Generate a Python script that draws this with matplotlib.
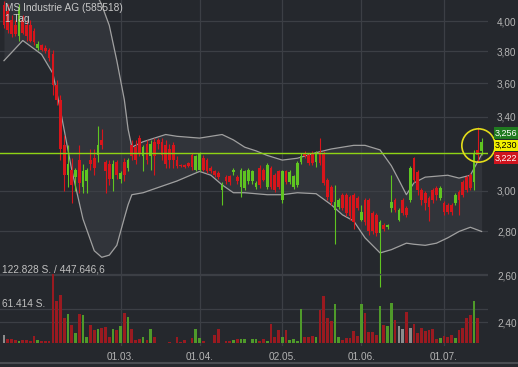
import numpy as np
import matplotlib.pyplot as plt
from matplotlib.ticker import NullLocator
from matplotlib.lines import Line2D

plt.rcParams['font.family'] = ['Liberation Sans', 'DejaVu Sans']

# Tageskerzen (Handelstage ab Mitte Januar)
opens = [4.11, 4.07, 4.01, 3.97, 3.90, 4.01, 3.97, 3.97, 3.93, 3.82,
         3.84, 3.82, 3.81, 3.78, 3.59, 3.50, 3.24, 3.08, 3.11, 3.07,
         3.16, 3.02, 3.05, 3.16, 3.17, 3.19, 3.27, 3.15, 3.14, 3.06,
         3.15, 3.06, 3.15, 3.12, 3.24, 3.23, 3.28, 3.18, 3.25, 3.18,
         3.26, 3.27, 3.26, 3.24, 3.22, 3.24, 3.16, 3.135, 3.135, 3.145,
         3.19, 3.11, 3.11, 3.17, 3.16, 3.12, 3.10, 3.09, 3.005, 3.07,
         3.075, 3.095, 3.07, 3.02, 3.015, 3.05, 3.05, 3.02, 3.12, 3.11,
         3.02, 3.12, 3.08, 3.10, 2.955, 3.10, 3.045, 3.02, 3.03, 3.15,
         3.20, 3.19, 3.20, 3.15, 3.205, 3.20, 3.055, 3.02, 2.905, 2.92,
         2.98, 2.98, 2.97, 2.98, 2.965, 2.855, 2.955, 2.955, 2.89, 2.88,
         2.795, 2.83, 2.82, 2.915, 2.955, 2.855, 2.955, 2.915, 2.955, 3.17,
         3.095, 3.005, 2.99, 2.965, 3.005, 3.015, 2.965, 2.94, 2.93, 2.93,
         2.94, 2.995, 3.045, 3.07, 3.08, 3.045, 3.215, 3.21]
closes = [3.97, 3.94, 3.91, 3.91, 4.09, 3.92, 3.90, 3.87, 3.86, 3.85,
          3.81, 3.80, 3.76, 3.59, 3.50, 3.22, 3.08, 3.14, 3.03, 3.11,
          3.04, 3.10, 3.11, 3.14, 3.12, 3.24, 3.24, 3.10, 3.06, 3.14,
          3.08, 3.09, 3.08, 3.16, 3.18, 3.16, 3.20, 3.23, 3.16, 3.25,
          3.18, 3.25, 3.19, 3.14, 3.16, 3.16, 3.13, 3.13, 3.125, 3.13,
          3.125, 3.18, 3.20, 3.11, 3.10, 3.10, 3.08, 3.07, 3.03, 3.05,
          3.045, 3.11, 3.05, 3.11, 3.10, 3.11, 3.10, 3.04, 3.03, 3.055,
          3.135, 3.02, 3.005, 3.02, 3.10, 3.045, 3.095, 3.075, 3.145, 3.18,
          3.18, 3.145, 3.145, 3.20, 3.145, 3.04, 2.97, 2.945, 2.945, 2.955,
          2.915, 2.89, 2.875, 2.845, 2.915, 2.895, 2.845, 2.80, 2.80, 2.795,
          2.845, 2.81, 2.83, 2.945, 2.905, 2.905, 2.89, 2.88, 3.12, 3.055,
          3.005, 2.955, 2.94, 2.92, 2.955, 2.98, 3.015, 2.895, 2.895, 2.895,
          2.98, 2.955, 2.98, 3.005, 3.015, 3.20, 3.19, 3.256]
highs = [4.14, 4.12, 4.04, 4.01, 4.12, 4.04, 4.00, 4.01, 3.95, 3.87,
         3.85, 3.84, 3.82, 3.81, 3.62, 3.53, 3.30, 3.24, 3.17, 3.12,
         3.24, 3.14, 3.12, 3.22, 3.22, 3.35, 3.33, 3.16, 3.16, 3.16,
         3.16, 3.10, 3.17, 3.17, 3.27, 3.27, 3.30, 3.24, 3.27, 3.27,
         3.28, 3.28, 3.28, 3.27, 3.25, 3.26, 3.18, 3.14, 3.14, 3.15,
         3.20, 3.19, 3.205, 3.19, 3.17, 3.13, 3.11, 3.10, 3.045, 3.08,
         3.08, 3.12, 3.08, 3.12, 3.11, 3.12, 3.11, 3.05, 3.135, 3.12,
         3.145, 3.13, 3.09, 3.11, 3.11, 3.11, 3.105, 3.08, 3.155, 3.20,
         3.21, 3.20, 3.21, 3.21, 3.28, 3.21, 3.065, 3.03, 3.03, 2.965,
         2.99, 2.99, 2.98, 2.99, 2.975, 2.93, 2.965, 2.965, 2.90, 2.89,
         2.855, 2.84, 2.835, 3.08, 2.965, 2.915, 2.965, 2.925, 3.13, 3.175,
         3.11, 3.015, 3.00, 2.975, 3.015, 3.025, 3.025, 2.95, 2.94, 2.94,
         2.99, 3.005, 3.055, 3.08, 3.09, 3.215, 3.34, 3.28]
lows = [3.95, 3.92, 3.89, 3.90, 3.87, 3.91, 3.87, 3.86, 3.84, 3.81,
        3.80, 3.79, 3.74, 3.53, 3.47, 3.16, 3.00, 3.02, 2.94, 3.00,
        2.99, 2.99, 2.99, 3.11, 3.08, 3.15, 3.22, 2.99, 3.03, 3.00,
        3.06, 3.04, 3.05, 3.10, 3.16, 3.14, 3.18, 3.10, 3.14, 3.11,
        3.08, 3.22, 3.16, 3.12, 3.12, 3.12, 3.12, 3.125, 3.12, 3.125,
        3.11, 3.10, 3.10, 3.10, 3.09, 3.09, 3.07, 3.06, 2.93, 3.035,
        3.03, 3.08, 3.035, 2.97, 3.005, 3.035, 3.035, 3.01, 3.015, 3.05,
        3.01, 3.01, 2.995, 3.01, 2.94, 3.035, 3.035, 3.01, 3.02, 3.14,
        3.17, 3.135, 3.135, 3.125, 3.135, 3.03, 2.955, 2.93, 2.74, 2.91,
        2.905, 2.875, 2.855, 2.81, 2.905, 2.85, 2.83, 2.785, 2.79, 2.78,
        2.55, 2.80, 2.81, 2.895, 2.895, 2.85, 2.88, 2.87, 2.945, 3.045,
        2.98, 2.93, 2.905, 2.85, 2.94, 2.955, 2.955, 2.88, 2.885, 2.88,
        2.93, 2.88, 2.97, 2.995, 3.005, 3.005, 3.15, 3.19]

# Umsatz in Tsd. Stueck
volume_k = [15, 7, 7, 5, 3, 5, 5, 3, 12, 5,
            4, 3, 3, 122.828, 75, 86, 44, 52, 32, 18,
            52, 50, 11, 32, 23, 25, 27, 28, 11, 25,
            23, 30, 53, 46, 25, 5, 7, 11, 5, 25,
            11, 0, 0, 0, 2, 0, 11, 2, 5, 0,
            9, 25, 9, 4, 0, 0, 14, 25, 0, 4,
            4, 5, 7, 7, 7, 0, 7, 7, 3, 7,
            4, 34, 11, 23, 11, 23, 5, 7, 3, 61,
            11, 11, 12, 11, 59, 84, 45, 39, 69, 11,
            5, 9, 9, 21, 12, 69, 53, 20, 20, 15,
            66, 32, 30, 71, 41, 30, 25, 55, 27, 34,
            18, 27, 21, 23, 25, 7, 9, 12, 11, 14,
            9, 23, 27, 45, 50, 75, 45, 0]
flat_days = [0, 105, 106, 108]

# Bollinger-Baender
band_days = [0, 5, 10, 13, 15, 18, 21, 24, 26, 28,
             30, 32, 33, 34, 37, 40, 43, 46, 49, 52,
             55, 58, 61, 64, 67, 70, 74, 78, 83, 87,
             90, 93, 96, 100, 103, 105, 107, 109, 112, 115,
             118, 121, 124, 127]
upper_band = [4.40, 4.45, 4.50, 4.50, 4.48, 4.42, 4.35, 4.22, 4.11, 3.97,
              3.74, 3.50, 3.33, 3.23, 3.26, 3.28, 3.30, 3.29, 3.285, 3.28,
              3.29, 3.30, 3.27, 3.23, 3.21, 3.185, 3.16, 3.17, 3.20, 3.22,
              3.23, 3.24, 3.24, 3.215, 3.13, 3.055, 2.98, 3.04, 3.07, 3.075,
              3.08, 3.065, 3.08, 3.19]
lower_band = [3.74, 3.87, 3.78, 3.66, 3.44, 3.11, 2.86, 2.71, 2.68, 2.69,
              2.735, 2.865, 2.93, 2.98, 2.99, 3.01, 3.03, 3.05, 3.075, 3.10,
              3.08, 3.03, 2.99, 2.99, 2.985, 2.98, 2.98, 2.99, 2.985, 2.93,
              2.88, 2.85, 2.77, 2.70, 2.715, 2.73, 2.745, 2.74, 2.735, 2.745,
              2.77, 2.80, 2.82, 2.80]

date_days = [31, 52, 74, 95, 117]
date_labels = ['01.03.', '01.04.', '02.05.', '01.06.', '01.07.']
price_ticks = [2.4, 2.6, 2.8, 3.0, 3.2, 3.4, 3.6, 3.8, 4.0]
signal_level = 3.20
tags = [('3,256', '#1f7a1f', 'white'), ('3,230', '#f2f000', 'black'), ('3,222', '#d0141e', 'white')]

bg = '#25282d'
grid_c = '#3c3f45'
txt_c = '#b4b4b4'

o = np.array(opens); c = np.array(closes)
h = np.array(highs); l = np.array(lows)
vol = np.array(volume_k) * 1000
idx = np.arange(len(c))
up = c >= o

fig = plt.figure(figsize=(5.18, 3.67), dpi=100, facecolor=bg)
rect = [0, 1 - 346 / 367, 488 / 518, 346 / 367]
ax = fig.add_axes(rect)
ax.set_facecolor(bg)
vax = fig.add_axes(rect, sharex=ax)
vax.patch.set_alpha(0)

ax.set_yscale('log')
ax.set_ylim(2.306, 4.145)
ax.set_xlim(-1.06, 128.7)
ax.yaxis.set_minor_locator(NullLocator())
ax.set_yticks(price_ticks)
# die 3,20 liegt unter den Kursmarken
ax.set_yticklabels(['' if t == signal_level else f"{t:.2f}".replace('.', ',')
                    for t in price_ticks])
ax.yaxis.tick_right()
ax.set_xticks(date_days)
ax.set_xticklabels(date_labels)
ax.tick_params(axis='y', length=0, pad=6.5, labelsize=7.2, labelcolor=txt_c)
ax.tick_params(axis='x', length=0, pad=4, labelsize=7.2, labelcolor=txt_c)
ax.grid(True, color=grid_c, linewidth=0.9)
ax.set_axisbelow(True)
for s in ax.spines.values():
    s.set_visible(False)

# Baender
ax.fill_between(band_days, lower_band, upper_band, color='#31343a', zorder=0.5, lw=0)
ax.plot(band_days, upper_band, color='#a0a0a0', lw=0.9, zorder=1)
ax.plot(band_days, lower_band, color='#a0a0a0', lw=0.9, zorder=1)

# Kerzen
ccol = np.where(up, '#5fc521', '#d8151b')
ax.vlines(idx, l, h, colors=ccol, lw=0.8, zorder=3)
body_low = np.minimum(o, c)
body_h = np.maximum(np.abs(c - o), 0.004)
ax.bar(idx, body_h, bottom=body_low, width=0.72, color=ccol, zorder=3)

ax.axhline(signal_level, color='#8fd414', lw=1.0, zorder=4)
ax.plot(idx[-2], 3.242, 'o', ms=24, mfc='none', mec='#e3dc1a', mew=1.2, zorder=5, clip_on=False)

# Volumen
vcol = np.where(up, '#4f9a2a', '#9a1a20').astype(object)
for d in flat_days:
    vcol[d] = '#8c8c8c'
vax.bar(idx, vol, width=0.72, color=list(vcol), zorder=2)
vax.set_ylim(-5340, 610600)
vax.axhline(61414, color=grid_c, lw=0.9, zorder=0)
vax.axhline(122828, color=grid_c, lw=0.9, zorder=0)
vax.set_yticks([])
vax.tick_params(axis='x', length=0, labelbottom=False)
for s in vax.spines.values():
    s.set_visible(False)

ax.text(0.01, 0.977, 'MS Industrie AG (585518)', transform=ax.transAxes,
        color='#c8c8c8', fontsize=7.3, va='center', ha='left', zorder=6)
ax.text(0.01, 0.945, '1 Tag', transform=ax.transAxes,
        color='#c8c8c8', fontsize=7.3, va='center', ha='left', zorder=6)
vax.text(0.004, 0.22, '122.828 S. / 447.646,6', transform=vax.transAxes,
         color='#c0c0c0', fontsize=7.3, va='center', ha='left')
vax.text(0.004, 0.121, '61.414 S.', transform=vax.transAxes,
         color='#c0c0c0', fontsize=7.3, va='center', ha='left')

for k, (label, fc, tc) in enumerate(tags):
    fig.text(495 / 518, 1 - (133 + 12.5 * k) / 367, label, color=tc, fontsize=6.5,
             va='center', ha='left',
             bbox=dict(boxstyle='square,pad=0.12', fc=fc, ec='none'))

fig.add_artist(Line2D([0, 1], [1 - 363 / 367] * 2, transform=fig.transFigure,
                      color='#4a4d52', lw=1.5))

fig.savefig('out.png', dpi=100, facecolor=bg)
